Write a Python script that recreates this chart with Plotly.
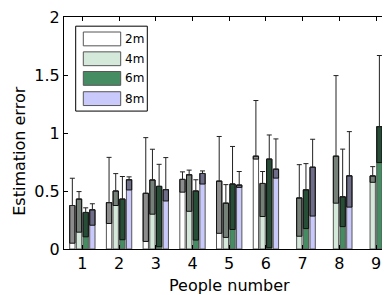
import plotly.graph_objects as go

# ---- data ----
people = [1, 2, 3, 4, 5, 6, 7, 8, 9]
series_names = ["2m", "4m", "6m", "8m"]

mean_2m = [0.375, 0.40, 0.48, 0.60, 0.585, 0.80, None, None, None]
low_2m = [0.05, 0.22, 0.065, 0.49, 0.135, 0.775, None, None, None]
up_2m = [0.61, 0.79, 0.96, 0.665, 0.97, 1.28, None, None, None]

mean_4m = [0.43, 0.50, 0.595, 0.64, 0.395, 0.565, 0.44, 0.80, 0.63]
low_4m = [0.145, 0.375, 0.30, 0.325, 0.10, 0.28, 0.11, 0.395, 0.575]
up_4m = [0.495, 0.65, 0.86, 0.68, 0.555, 0.668, 0.727, 1.495, 0.71]

mean_6m = [0.315, 0.43, 0.54, 0.50, 0.56, 0.775, 0.51, 0.45, 1.055]
low_6m = [0.105, 0.08, 0.02, 0.077, 0.168, 0.011, 0.176, 0.193, 0.745]
up_6m = [0.355, 0.625, 0.73, 0.597, 0.884, 0.983, 0.736, 0.861, 1.668]

mean_8m = [0.338, 0.597, 0.512, 0.651, 0.551, 0.688, 0.705, 0.631, 0.688]
low_8m = [0.205, 0.509, 0.414, 0.56, 0.531, 0.611, 0.284, 0.361, 0.304]
up_8m = [0.39, 0.622, 0.788, 0.673, 0.668, 0.949, 0.946, 1.012, 0.943]

y_ticks = [0, 0.5, 1, 1.5, 2]
y_tick_labels = ["0", "0.5", "1", "1.5", "2"]

# ---- style ----
colors = ["#ffffff", "#d5e9da", "#468c62", "#c9c9fb"]
FONT = "DejaVu Sans"
offsets = [-0.2727, -0.0909, 0.0909, 0.2727]
bar_w = 0.145

means = [mean_2m, mean_4m, mean_6m, mean_8m]
lows = [low_2m, low_4m, low_6m, low_8m]
ups = [up_2m, up_4m, up_6m, up_8m]

fig = go.Figure()

# main bars
for i, name in enumerate(series_names):
    xs = [p + offsets[i] for p, m in zip(people, means[i]) if m is not None]
    ys = [m for m in means[i] if m is not None]
    fig.add_trace(go.Bar(x=xs, y=ys, width=bar_w, name=name,
                         marker=dict(color=colors[i], line=dict(color="#555555", width=1)),
                         showlegend=False))

# lower (dark) part of the error bars
for i, name in enumerate(series_names):
    xs, bases, hs = [], [], []
    for p, m, lo in zip(people, means[i], lows[i]):
        if m is None:
            continue
        xs.append(p + offsets[i])
        bases.append(lo)
        hs.append(m - lo)
    fig.add_trace(go.Bar(x=xs, y=hs, base=bases, width=bar_w,
                         marker=dict(color="rgba(0,0,0,0.45)", line=dict(color="#111111", width=1)),
                         showlegend=False, hoverinfo="skip"))

# upper whiskers
for i, name in enumerate(series_names):
    xs, ys, e = [], [], []
    for p, m, u in zip(people, means[i], ups[i]):
        if m is None:
            continue
        xs.append(p + offsets[i])
        ys.append(m)
        e.append(u - m)
    fig.add_trace(go.Scatter(x=xs, y=ys, mode="markers",
                             marker=dict(size=1, color="rgba(0,0,0,0)"),
                             error_y=dict(type="data", symmetric=False, array=e,
                                          arrayminus=[0] * len(e), color="#222222",
                                          thickness=1, width=2.5),
                             showlegend=False, hoverinfo="skip"))

# ---- layout ----
# the page has an 8px body margin, so the figure is drawn at an 8px offset
OFF = 8
W_PX, H_PX = 390 - OFF, 295 - OFF
L, T = 64 - OFF, 14 - OFF
R = 0
B = H_PX - (249 - OFF)
PW = W_PX - L - R
PH = H_PX - T - B


def pxx(x):
    # x in page pixels -> paper coordinate
    return (x - OFF - L) / PW


def pxy(y):
    # y in page pixels -> paper coordinate
    return (H_PX - B - (y - OFF)) / PH


fig.update_layout(
    width=W_PX, height=H_PX,
    margin=dict(l=L, r=R, t=T, b=B, pad=0),
    paper_bgcolor="white", plot_bgcolor="white",
    barmode="overlay",
    font=dict(family=FONT, size=16, color="black"),
    showlegend=False,
    xaxis=dict(range=[0.5, 9.38], tickmode="array", tickvals=people,
               ticktext=[str(p) for p in people],
               ticks="inside", ticklen=4, tickcolor="black",
               showline=True, linecolor="black", linewidth=1, mirror="ticks",
               showgrid=False, zeroline=False, ticklabeloverflow="allow",
               tickfont=dict(family=FONT, size=16, color="black")),
    yaxis=dict(range=[0, 2], tickmode="array", tickvals=y_ticks, ticktext=y_tick_labels,
               ticks="inside", ticklen=4, tickcolor="black",
               showline=True, linecolor="black", linewidth=1, mirror=False,
               showgrid=False, zeroline=False, ticklabeloverflow="allow",
               tickfont=dict(family=FONT, size=16, color="black")),
)

# axis titles
fig.add_annotation(text="Estimation error", xref="paper", yref="paper",
                   x=pxx(19.5), y=pxy(150), textangle=-90, showarrow=False,
                   xanchor="center", yanchor="middle",
                   font=dict(family=FONT, size=16, color="black"))
fig.add_annotation(text="People number", xref="paper", yref="paper",
                   x=pxx(229), y=pxy(286), showarrow=False,
                   xanchor="center", yanchor="middle",
                   font=dict(family=FONT, size=16, color="black"))

# legend box (drawn manually to match the wide patches)
fig.add_shape(type="rect", xref="paper", yref="paper",
              x0=pxx(75.7), x1=pxx(147.3), y0=pxy(109.3), y1=pxy(23.3),
              line=dict(color="black", width=1), fillcolor="white", layer="above")
row_centers = [36.2, 56.3, 76.2, 96.7]
for i, name in enumerate(series_names):
    yc = row_centers[i]
    fig.add_shape(type="rect", xref="paper", yref="paper",
                  x0=pxx(83.3), x1=pxx(120.7), y0=pxy(yc + 7), y1=pxy(yc - 7),
                  line=dict(color="#555555", width=1), fillcolor=colors[i], layer="above")
    fig.add_annotation(text=name, xref="paper", yref="paper",
                       x=pxx(122.5), y=pxy(yc), showarrow=False,
                       xanchor="left", yanchor="middle",
                       font=dict(family=FONT, size=12, color="black"))

fig.write_html("out.html")
